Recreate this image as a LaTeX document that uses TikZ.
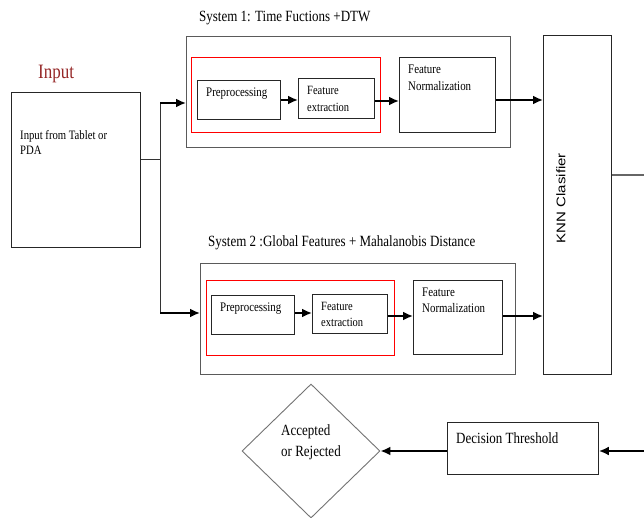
\documentclass[tikz,border=0pt]{standalone}
\usepackage{fontspec}
\setmainfont{Liberation Serif}
\newfontfamily\knnfont{Liberation Sans}
\usetikzlibrary{arrows.meta,shapes.geometric}
\newcommand{\tl}[1]{\scalebox{1}[1.2]{#1}}
\definecolor{inred}{RGB}{150,40,40}
\definecolor{sysgray}{RGB}{90,90,90}
\begin{document}
\begin{tikzpicture}[x=1pt,y=-1pt,
  box/.style={draw=black!85, line width=0.9pt, inner sep=0pt},
  sysbox/.style={draw=sysgray, line width=1.1pt, inner sep=0pt},
  redbox/.style={draw=red, line width=0.8pt, inner sep=0pt},
  txt/.style={inner sep=0pt, anchor=base west},
  arr/.style={line width=1.9pt, -{Latex[length=10pt,width=9pt]}},
  thin/.style={line width=0.9pt, draw=black!80}]
\useasboundingbox (0,0) rectangle (644,518);
\fill[white] (0,0) rectangle (644,518);

% Input
\node[txt, text=inred, font=\fontsize{17}{20}\selectfont] (inlab) at (38,79) {\tl{Input}};
\node[box, minimum width=129pt, minimum height=155pt, anchor=north west] (inp) at (11,92) {};
\node[txt, font=\fontsize{10.7}{12}\selectfont] (int1) at (20,140) {\tl{Input from Tablet or}};
\node[txt, font=\fontsize{10.7}{12}\selectfont] (int2) at (20,155) {\tl{PDA}};

% System 1
\node[txt, font=\fontsize{13}{15}\selectfont] (s1t) at (199,22) {\tl{System 1: Time Fuctions +DTW}};
\node[sysbox, minimum width=324pt, minimum height=111pt, anchor=north west] (s1) at (186,36) {};
\node[redbox, minimum width=189pt, minimum height=75pt, anchor=north west] (s1r) at (191,57) {};
\node[box, minimum width=83pt, minimum height=39pt, anchor=north west] (s1p) at (197,80) {};
\node[txt, font=\fontsize{10.9}{12}\selectfont] (s1pt) at (206,97) {\tl{Preprocessing}};
\node[box, minimum width=76pt, minimum height=40pt, anchor=north west] (s1f) at (298,78) {};
\node[txt, font=\fontsize{10.5}{12}\selectfont] (s1ft1) at (307,94.5) {\tl{Feature}};
\node[txt, font=\fontsize{10.5}{12}\selectfont] (s1ft2) at (307,111.5) {\tl{extraction}};
\node[box, minimum width=96pt, minimum height=75pt, anchor=north west] (s1n) at (399,57) {};
\node[txt, font=\fontsize{10.9}{12}\selectfont] (s1nt1) at (408,73.5) {\tl{Feature}};
\node[txt, font=\fontsize{10.9}{12}\selectfont] (s1nt2) at (408,90.5) {\tl{Normalization}};

% System 2
\node[txt, font=\fontsize{13}{15}\selectfont] (s2t) at (208,247) {\tl{System 2 :Global Features + Mahalanobis Distance}};
\node[sysbox, minimum width=315pt, minimum height=111pt, anchor=north west] (s2) at (200,263) {};
\node[redbox, minimum width=188pt, minimum height=75pt, anchor=north west] (s2r) at (206,280) {};
\node[box, minimum width=83pt, minimum height=39pt, anchor=north west] (s2p) at (211,295) {};
\node[txt, font=\fontsize{10.9}{12}\selectfont] (s2pt) at (220,311.5) {\tl{Preprocessing}};
\node[box, minimum width=75pt, minimum height=39pt, anchor=north west] (s2f) at (312,294) {};
\node[txt, font=\fontsize{10.5}{12}\selectfont] (s2ft1) at (321,310) {\tl{Feature}};
\node[txt, font=\fontsize{10.5}{12}\selectfont] (s2ft2) at (321,326) {\tl{extraction}};
\node[box, minimum width=89pt, minimum height=74pt, anchor=north west] (s2n) at (413,280) {};
\node[txt, font=\fontsize{10.9}{12}\selectfont] (s2nt1) at (422,296) {\tl{Feature}};
\node[txt, font=\fontsize{10.9}{12}\selectfont] (s2nt2) at (422,312) {\tl{Normalization}};

% KNN
\node[box, minimum width=68pt, minimum height=339pt, anchor=north west] (knn) at (543,35) {};
\node[inner sep=0pt, rotate=90, font=\knnfont\fontsize{12.5}{14}\selectfont] (knnt) at (561,198) {\scalebox{1.2}[1]{KNN Clasifier}};

% Decision
\node[box, minimum width=151pt, minimum height=52pt, anchor=north west] (dt) at (447,422) {};
\node[txt, font=\fontsize{13}{15}\selectfont] (dtt) at (456,443) {\tl{Decision Threshold}};
\node[diamond, draw=black!55, line width=0.9pt, minimum width=138pt, minimum height=134pt, inner sep=0pt] (dia) at (311,451) {};
\node[txt, font=\fontsize{13}{15}\selectfont] (dia1) at (281,435) {\tl{Accepted}};
\node[txt, font=\fontsize{13}{15}\selectfont] (dia2) at (281,456) {\tl{or Rejected}};

% Connectors
\coordinate (j) at (160,159);
\coordinate (jt) at (160,103);
\coordinate (jb) at (160,313);
\draw[thin] (inp.east |- j) -- (j);
\draw[thin] (jt) -- (jb);
\draw[arr] (jt) -- (s1.west |- jt);
\draw[arr] (jb) -- (s2.west |- jb);
\draw[arr] (s1p.east |- 0,100) -- (s1f.west |- 0,100);
\draw[arr] (s1f.east |- 0,101) -- (s1n.west |- 0,101);
\draw[arr] (s1n.east |- 0,100) -- (knn.west |- 0,100);
\draw[arr] (s2p.east |- 0,313) -- (s2f.west |- 0,313);
\draw[arr] (s2f.east |- 0,316) -- (s2n.west |- 0,316);
\draw[arr] (s2n.east |- 0,316) -- (knn.west |- 0,316);
\coordinate (kout) at (644,175);
\draw[line width=1.1pt, draw=black!60] (knn.east |- kout) -- (kout);
\coordinate (dtin) at (644,451);
\draw[arr] (dtin) -- (dt.east |- dtin);
\draw[arr] (dt.west |- dia.east) -- (dia.east);
\end{tikzpicture}
\end{document}
